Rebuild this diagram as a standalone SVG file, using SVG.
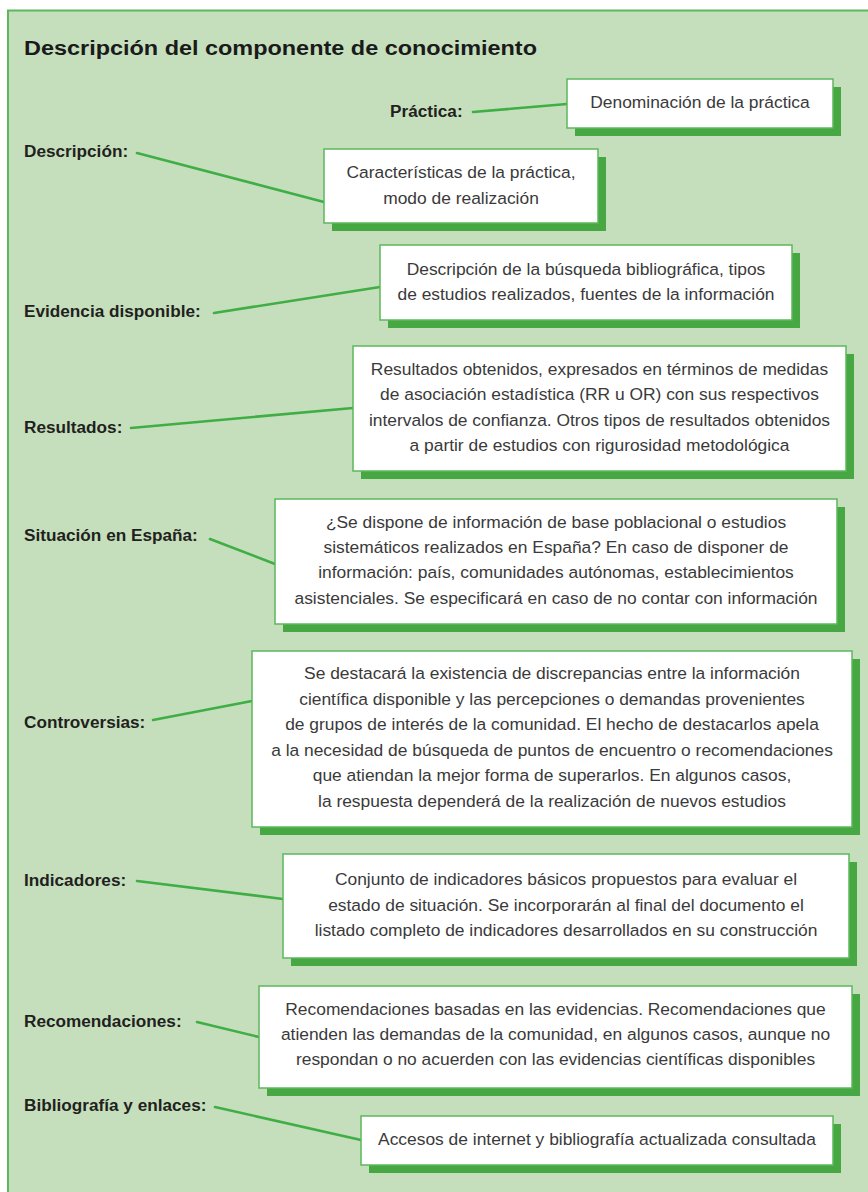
<svg xmlns="http://www.w3.org/2000/svg" width="868" height="1192" viewBox="0 0 868 1192">
<style>
.panel{fill:#c5dfbd;stroke:#5db75c;stroke-width:2}
.shadow{fill:#47a843}
.box{fill:#ffffff;stroke:#5cb85b;stroke-width:1.5}
.bt{font-family:"Liberation Sans",Arial,sans-serif;font-size:17.4px;fill:#3a3a3a;text-anchor:middle}
.lbl{font-family:"Liberation Sans",Arial,sans-serif;font-size:17.2px;font-weight:bold;fill:#231f20}
.title{font-family:"Liberation Sans",Arial,sans-serif;font-size:20px;font-weight:900;fill:#1a1a1a}
.conn line{stroke:#3fae45;stroke-width:2.6;stroke-linecap:round}
</style>
<rect class="panel" x="8" y="10.5" width="880" height="1200"/>
<text class="title" x="24" y="55" textLength="513" lengthAdjust="spacingAndGlyphs">Descripción del componente de conocimiento</text>

<g id="labels">
<text class="lbl" x="390" y="117">Práctica:</text>
<text class="lbl" x="24" y="157">Descripción:</text>
<text class="lbl" x="24" y="317">Evidencia disponible:</text>
<text class="lbl" x="24" y="433">Resultados:</text>
<text class="lbl" x="24" y="541">Situación en España:</text>
<text class="lbl" x="24" y="728">Controversias:</text>
<text class="lbl" x="24" y="886">Indicadores:</text>
<text class="lbl" x="24" y="1027">Recomendaciones:</text>
<text class="lbl" x="24" y="1111">Bibliografía y enlaces:</text>
</g>

<g id="connectors" class="conn">
<line x1="473" y1="112" x2="567" y2="104"/>
<line x1="137" y1="153" x2="324" y2="202"/>
<line x1="214" y1="313" x2="380" y2="287"/>
<line x1="131" y1="428" x2="353" y2="408"/>
<line x1="210" y1="539" x2="275" y2="564"/>
<line x1="153" y1="720" x2="252" y2="701"/>
<line x1="137" y1="881" x2="283" y2="899"/>
<line x1="197" y1="1022" x2="259" y2="1037"/>
<line x1="215" y1="1107" x2="361" y2="1140"/>
</g>

<g id="node-practica">
<rect class="shadow" x="575" y="87" width="266" height="49"/>
<rect class="box" x="567" y="79" width="266" height="49"/>
<text class="bt" x="700" y="108">Denominación de la práctica</text>
</g>

<g id="node-descripcion">
<rect class="shadow" x="332" y="157" width="274" height="74"/>
<rect class="box" x="324" y="149" width="274" height="74"/>
<text class="bt" x="461" y="178">Características de la práctica,</text>
<text class="bt" x="461" y="203.5">modo de realización</text>
</g>

<g id="node-evidencia">
<rect class="shadow" x="388" y="253" width="412" height="75"/>
<rect class="box" x="380" y="245" width="412" height="75"/>
<text class="bt" x="586" y="274.5">Descripción de la búsqueda bibliográfica, tipos</text>
<text class="bt" x="586" y="300">de estudios realizados, fuentes de la información</text>
</g>

<g id="node-resultados">
<rect class="shadow" x="361" y="354" width="493" height="125"/>
<rect class="box" x="353" y="346" width="493" height="125"/>
<text class="bt" x="599.5" y="375">Resultados obtenidos, expresados en términos de medidas</text>
<text class="bt" x="599.5" y="400.3">de asociación estadística (RR u OR) con sus respectivos</text>
<text class="bt" x="599.5" y="425.6">intervalos de confianza. Otros tipos de resultados obtenidos</text>
<text class="bt" x="599.5" y="451">a partir de estudios con rigurosidad metodológica</text>
</g>

<g id="node-situacion">
<rect class="shadow" x="283" y="507" width="562" height="125"/>
<rect class="box" x="275" y="499" width="562" height="125"/>
<text class="bt" x="556" y="527.5">¿Se dispone de información de base poblacional o estudios</text>
<text class="bt" x="556" y="552.8">sistemáticos realizados en España? En caso de disponer de</text>
<text class="bt" x="556" y="578.1">información: país, comunidades autónomas, establecimientos</text>
<text class="bt" x="556" y="603.5">asistenciales. Se especificará en caso de no contar con información</text>
</g>

<g id="node-controversias">
<rect class="shadow" x="260" y="659" width="600" height="176"/>
<rect class="box" x="252" y="651" width="600" height="176"/>
<text class="bt" x="552" y="679">Se destacará la existencia de discrepancias entre la información</text>
<text class="bt" x="552" y="704.5">científica disponible y las percepciones o demandas provenientes</text>
<text class="bt" x="552" y="730">de grupos de interés de la comunidad. El hecho de destacarlos apela</text>
<text class="bt" x="552" y="755.5">a la necesidad de búsqueda de puntos de encuentro o recomendaciones</text>
<text class="bt" x="552" y="781">que atiendan la mejor forma de superarlos. En algunos casos,</text>
<text class="bt" x="552" y="806.5">la respuesta dependerá de la realización de nuevos estudios</text>
</g>

<g id="node-indicadores">
<rect class="shadow" x="291" y="862" width="566" height="104"/>
<rect class="box" x="283" y="854" width="566" height="104"/>
<text class="bt" x="566" y="885">Conjunto de indicadores básicos propuestos para evaluar el</text>
<text class="bt" x="566" y="910.5">estado de situación. Se incorporarán al final del documento el</text>
<text class="bt" x="566" y="936">listado completo de indicadores desarrollados en su construcción</text>
</g>

<g id="node-recomendaciones">
<rect class="shadow" x="267" y="994" width="593" height="102"/>
<rect class="box" x="259" y="986" width="593" height="102"/>
<text class="bt" x="555.5" y="1015">Recomendaciones basadas en las evidencias. Recomendaciones que</text>
<text class="bt" x="555.5" y="1040">atienden las demandas de la comunidad, en algunos casos, aunque no</text>
<text class="bt" x="555.5" y="1065">respondan o no acuerden con las evidencias científicas disponibles</text>
</g>

<g id="node-bibliografia">
<rect class="shadow" x="369" y="1124" width="472" height="49"/>
<rect class="box" x="361" y="1116" width="472" height="49"/>
<text class="bt" x="597" y="1145">Accesos de internet y bibliografía actualizada consultada</text>
</g>
</svg>
